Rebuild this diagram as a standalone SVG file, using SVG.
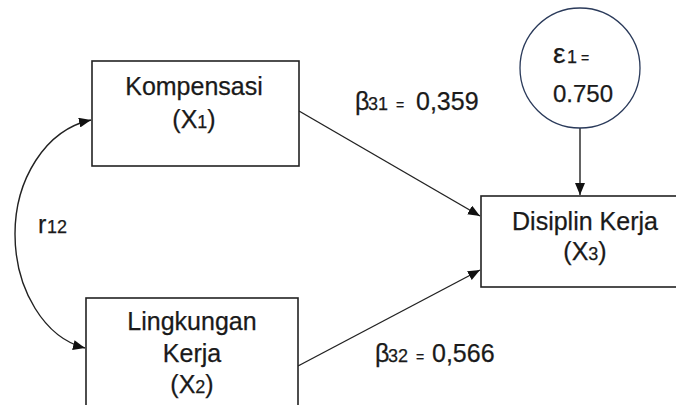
<svg xmlns="http://www.w3.org/2000/svg" width="676" height="405" viewBox="0 0 676 405">
<style>
.box{fill:#fff;stroke:#222;stroke-width:1.6}
.t{font-family:"Liberation Sans",Arial,sans-serif;fill:#1a1a1a;font-size:25px;stroke:#1a1a1a;stroke-width:0.25}
.s{font-size:18px}
.q{font-size:14px}
.ln{fill:none;stroke:#222;stroke-width:1.4}
</style>
<defs>
<marker id="ah" viewBox="0 0 12 10" refX="12" refY="5" markerWidth="12" markerHeight="10" markerUnits="userSpaceOnUse" orient="auto-start-reverse">
<path d="M0,0 L12,5 L0,10 Z" fill="#111"/>
</marker>
</defs>
<rect width="676" height="405" fill="#fff"/>
<g id="connectors">
<path class="ln" d="M299,111 L480,216" marker-end="url(#ah)"/>
<path class="ln" d="M298,366 L480,270" marker-end="url(#ah)"/>
<path class="ln" d="M580,127 L580,195" marker-end="url(#ah)"/>
<path class="ln" d="M91,120 C45,130 15,180 15,234 C15,290 45,338 85,348" marker-start="url(#ah)" marker-end="url(#ah)"/>
</g>
<g id="x1">
<rect class="box" x="92" y="61" width="207" height="105"/>
<text class="t" x="194" y="95" text-anchor="middle">Kompensasi</text>
<text class="t" x="194" y="128" text-anchor="middle">(X<tspan class="s">1</tspan>)</text>
</g>
<g id="x2">
<rect class="box" x="86" y="298" width="212" height="120"/>
<text class="t" x="192" y="330" text-anchor="middle">Lingkungan</text>
<text class="t" x="192" y="362" text-anchor="middle">Kerja</text>
<text class="t" x="192" y="393" text-anchor="middle">(X<tspan class="s">2</tspan>)</text>
</g>
<g id="x3">
<rect class="box" x="481" y="196" width="210" height="91"/>
<text class="t" x="585" y="230" text-anchor="middle">Disiplin Kerja</text>
<text class="t" x="585" y="260" text-anchor="middle">(X<tspan class="s">3</tspan>)</text>
</g>
<g id="e1">
<circle cx="580" cy="68" r="60" fill="#fff" stroke="#2a3a5a" stroke-width="1.3"/>
<text class="t" x="553" y="63" style="font-size:28px">ε<tspan class="s" x="567">1</tspan><tspan class="q" x="581">=</tspan></text>
<text class="t" x="553" y="102" style="font-size:24px">0.750</text>
</g>
<g id="labels">
<text class="t" x="355" y="110">β<tspan class="s" x="368">31</tspan><tspan class="q" x="396">=</tspan><tspan x="416">0,359</tspan></text>
<text class="t" x="375" y="362">β<tspan class="s" x="388">32</tspan><tspan class="q" x="416">=</tspan><tspan x="432">0,566</tspan></text>
<text class="t" x="38" y="233">r<tspan class="s" x="47">12</tspan></text>
</g>
</svg>
